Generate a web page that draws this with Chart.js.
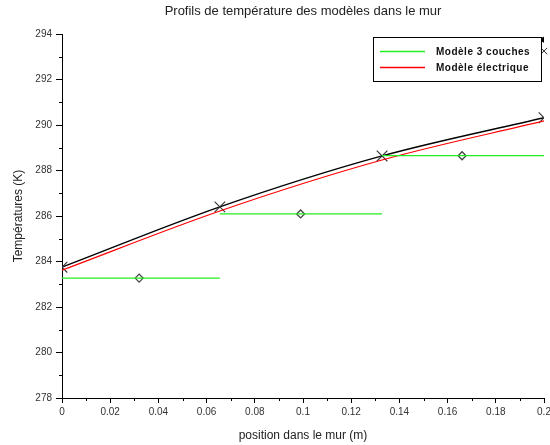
<!DOCTYPE html>
<html><head><meta charset="utf-8">
<script src="https://cdn.jsdelivr.net/npm/chart.js@4"></script>
<style>html,body{margin:0;padding:0;background:#fff}#wrap{width:550px;height:445px}</style>
</head><body><div id="wrap"><canvas id="c" width="550" height="445"></canvas></div>
<script>
// ---- data ----
const positions      = [0, 0.0655, 0.1328, 0.2];          // interfaces (m)
const tempProfil     = [283.75, 286.40, 288.64, 290.32];  // black curve (K)
const tempElectrique = [283.62, 286.22, 288.46, 290.18];  // red curve (K)
const layerStart     = [0, 0.0655, 0.1328];
const layerEnd       = [0.0655, 0.1328, 0.2];
const layerTemp      = [283.27, 286.09, 288.65];          // green segments (K)
const layerMid       = [0.032, 0.099, 0.166];             // diamond markers
const extraTriX = [0.2], extraTriY = [293.75];
const extraCrossX = [0.2], extraCrossY = [293.25];
const xTickValues = [0, 0.02, 0.04, 0.06, 0.08, 0.1, 0.12, 0.14, 0.16, 0.18, 0.2];
const yTickValues = [278, 280, 282, 284, 286, 288, 290, 292, 294];
const labelCouches = 'Modèle 3 couches';
const labelElec = 'Modèle électrique';

const GREEN = '#22ee22', RED = '#ff0000';
const FAMILY = '"Liberation Sans", Arial, Helvetica, sans-serif';
Chart.defaults.font.family = FAMILY;

const pts = (xs, ys) => xs.map((x, i) => ({x, y: ys[i]}));
const greenData = [];
layerStart.forEach((s, i) => {
  greenData.push({x: s, y: layerTemp[i]}, {x: layerEnd[i], y: layerTemp[i]});
  if (i < layerStart.length - 1) greenData.push({x: layerEnd[i], y: null});
});

const legendItems = [ { text: labelCouches, color: GREEN }, { text: labelElec, color: RED } ];

const legendPlugin = {
  id: 'boxLegend',
  afterDraw(chart) {
    const ctx = chart.ctx, a = chart.chartArea;
    const w = 168, h = 44;
    const x0 = Math.round(a.right - 3 - w), y0 = Math.round(a.top + 3);
    ctx.save();
    ctx.fillStyle = '#fff'; ctx.fillRect(x0, y0, w, h);
    ctx.strokeStyle = '#000'; ctx.lineWidth = 1; ctx.strokeRect(x0 + 0.5, y0 + 0.5, w, h);
    ctx.font = 'bold 10px ' + FAMILY;
    ctx.textBaseline = 'middle';
    legendItems.forEach((it, i) => {
      const y = y0 + 14 + i * 16;
      ctx.beginPath();
      ctx.strokeStyle = it.color; ctx.lineWidth = 1.3;
      ctx.moveTo(x0 + 7, y + 0.5); ctx.lineTo(x0 + 52, y + 0.5); ctx.stroke();
      ctx.fillStyle = '#111';
      try { ctx.letterSpacing = '0.5px'; } catch (e) {}
      ctx.fillText(it.text, x0 + 63, y + 1);
    });
    ctx.restore();
  }
};

const minorTicks = {
  id: 'minorTicks',
  afterDatasetsDraw(chart) {
    const ctx = chart.ctx, xs = chart.scales.x, ys = chart.scales.y;
    ctx.save(); ctx.strokeStyle = '#000'; ctx.lineWidth = 1; ctx.beginPath();
    for (let i = 0; i < xs.ticks.length - 1; i++) {
      const v = (xs.ticks[i].value + xs.ticks[i + 1].value) / 2;
      const px = Math.round(xs.getPixelForValue(v)) + 0.5;
      ctx.moveTo(px, xs.top); ctx.lineTo(px, xs.top + 3);
    }
    for (let i = 0; i < ys.ticks.length - 1; i++) {
      const v = (ys.ticks[i].value + ys.ticks[i + 1].value) / 2;
      const py = Math.round(ys.getPixelForValue(v)) + 0.5;
      ctx.moveTo(ys.right, py); ctx.lineTo(ys.right - 3, py);
    }
    ctx.stroke(); ctx.restore();
  }
};

new Chart(document.getElementById('c'), {
  type: 'line',
  data: {
    datasets: [
      { label: labelCouches, data: greenData, borderColor: GREEN, borderWidth: 1.3,
        pointRadius: 0, spanGaps: false, order: 0, clip: 0 },
      { label: 'diamants', data: pts(layerMid, layerTemp), showLine: false, pointStyle: 'rectRot',
        pointRadius: 4, pointBorderColor: '#444', pointBackgroundColor: 'rgba(0,0,0,0)', pointBorderWidth: 1.3, order: 0 },
      { label: labelElec, data: pts(positions, tempElectrique), borderColor: RED, borderWidth: 1.2,
        cubicInterpolationMode: 'monotone', pointRadius: 0, order: 1, clip: 0 },
      { label: 'profil', data: pts(positions, tempProfil), borderColor: '#000', borderWidth: 1.3,
        cubicInterpolationMode: 'monotone', pointStyle: 'crossRot', pointRadius: 7.5,
        pointBorderColor: '#333', pointBorderWidth: 1.1, order: 2, clip: 0 },
      { label: 'tri', data: pts(extraTriX, extraTriY), showLine: false, pointStyle: 'triangle', rotation: -90,
        pointRadius: 4.5, pointBackgroundColor: '#000', pointBorderColor: '#000', order: 0, clip: 0 },
      { label: 'croix', data: pts(extraCrossX, extraCrossY), showLine: false, pointStyle: 'crossRot',
        pointRadius: 4.5, pointBorderColor: '#333', pointBorderWidth: 1, order: 0, clip: false }
    ]
  },
  options: {
    responsive: false, animation: false, devicePixelRatio: 1,
    layout: { autoPadding: false, padding: { left: 0, right: 6, top: 0, bottom: 0 } },
    plugins: {
      legend: { display: false },
      tooltip: { enabled: false },
      title: { display: true, fullSize: false, text: 'Profils de température des modèles dans le mur',
        font: { size: 13, weight: 'normal' }, color: '#222', padding: { top: 4, bottom: 14.4 } }
    },
    scales: {
      x: {
        type: 'linear', min: 0, max: 0.2,
        afterBuildTicks: s => { s.ticks = xTickValues.map(v => ({ value: v })); },
        afterFit: s => { s.height = 47; s.paddingLeft = 0; s.paddingRight = 0; },
        ticks: { callback: v => String(+(+v).toFixed(2)), font: { size: 10 }, color: '#333', padding: 3,
          maxRotation: 0, autoSkip: false },
        grid: { display: true, drawOnChartArea: false, drawTicks: true, tickLength: 5, color: '#000' },
        border: { display: true, color: '#000', width: 1 },
        title: { display: true, text: 'position dans le mur (m)', font: { size: 12 }, color: '#222',
          padding: { top: 0, bottom: 2 } }
      },
      y: {
        type: 'linear', min: 278, max: 294,
        afterBuildTicks: s => { s.ticks = yTickValues.map(v => ({ value: v })); },
        afterFit: s => { s.width = 62; },
        ticks: { font: { size: 10 }, color: '#333', padding: 4 },
        grid: { display: true, drawOnChartArea: false, drawTicks: true, tickLength: 6, color: '#000' },
        border: { display: true, color: '#000', width: 1 },
        title: { display: true, text: 'Températures (K)', font: { size: 12 }, color: '#222',
          padding: { top: 11, bottom: 0 } }
      }
    }
  },
  plugins: [minorTicks, legendPlugin]
});
</script>
</body></html>
